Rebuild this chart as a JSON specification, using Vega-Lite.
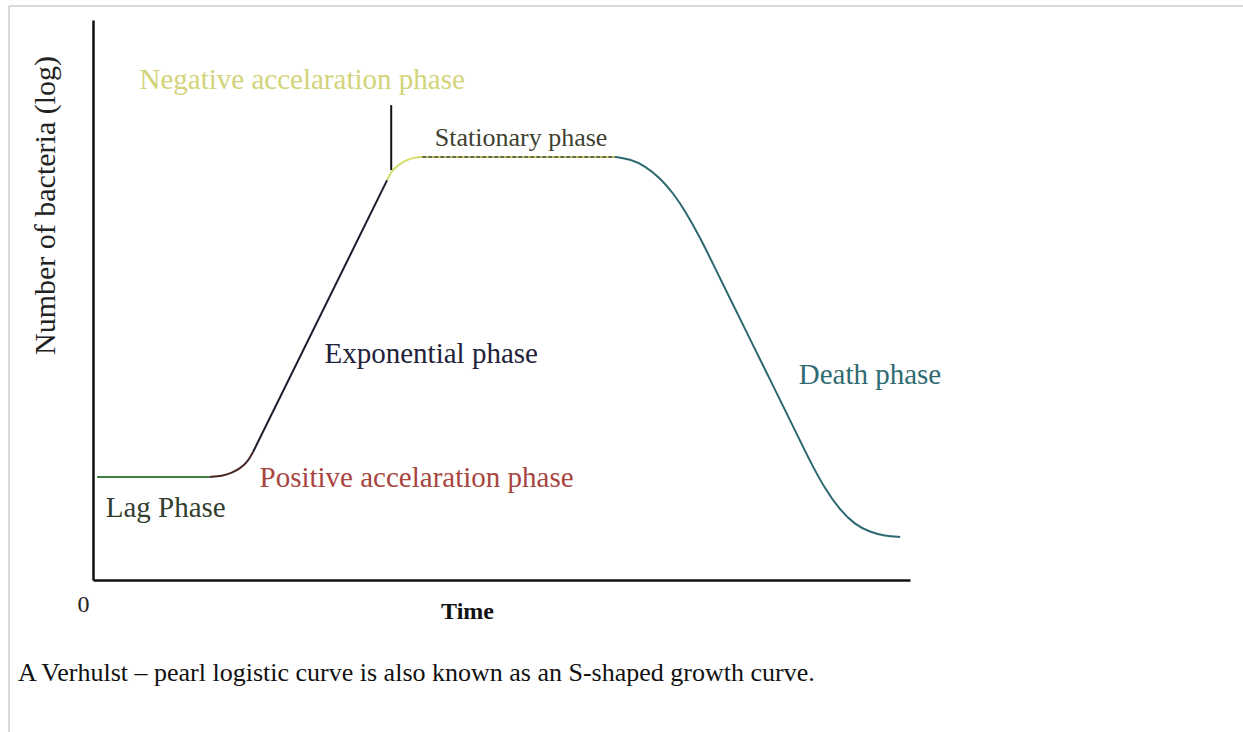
{
  "$schema": "https://vega.github.io/schema/vega-lite/v6.json",
  "width": 817,
  "height": 560,
  "autosize": {"type": "none"},
  "padding": {"left": 93, "top": 20, "right": 333, "bottom": 152},
  "background": "white",
  "config": {"view": {"stroke": null}, "font": "Liberation Serif"},
  "datasets": {
    "curve": [
      {"phase": "Lag", "t": 0.5, "n": 18.4},
      {"phase": "Lag", "t": 14.3, "n": 18.4},
      {"phase": "Positive", "t": 14.3, "n": 18.4},
      {"phase": "Positive", "t": 15.8, "n": 18.57},
      {"phase": "Positive", "t": 17.0, "n": 19.1},
      {"phase": "Positive", "t": 18.1, "n": 20.0},
      {"phase": "Positive", "t": 19.0, "n": 21.25},
      {"phase": "Positive", "t": 19.6, "n": 22.9},
      {"phase": "Exponential", "t": 19.6, "n": 22.9},
      {"phase": "Exponential", "t": 36.0, "n": 71.4},
      {"phase": "Negative", "t": 36.0, "n": 71.4},
      {"phase": "Negative", "t": 36.5, "n": 72.9},
      {"phase": "Negative", "t": 37.2, "n": 73.9},
      {"phase": "Negative", "t": 38.1, "n": 74.8},
      {"phase": "Negative", "t": 39.0, "n": 75.35},
      {"phase": "Negative", "t": 40.3, "n": 75.55},
      {"phase": "Stationary", "t": 40.3, "n": 75.55},
      {"phase": "Stationary", "t": 63.9, "n": 75.55},
      {"phase": "Death", "t": 63.9, "n": 75.55},
      {"phase": "Death", "t": 65.7, "n": 75.18},
      {"phase": "Death", "t": 67.6, "n": 73.93},
      {"phase": "Death", "t": 69.4, "n": 71.79},
      {"phase": "Death", "t": 71.0, "n": 69.11},
      {"phase": "Death", "t": 72.5, "n": 65.89},
      {"phase": "Death", "t": 74.4, "n": 60.9},
      {"phase": "Death", "t": 75.9, "n": 56.4},
      {"phase": "Death", "t": 78.3, "n": 49.3},
      {"phase": "Death", "t": 80.8, "n": 41.9},
      {"phase": "Death", "t": 83.2, "n": 34.8},
      {"phase": "Death", "t": 85.7, "n": 27.4},
      {"phase": "Death", "t": 87.1, "n": 23.2},
      {"phase": "Death", "t": 88.1, "n": 20.3},
      {"phase": "Death", "t": 89.6, "n": 16.3},
      {"phase": "Death", "t": 91.4, "n": 12.5},
      {"phase": "Death", "t": 93.3, "n": 9.82},
      {"phase": "Death", "t": 95.1, "n": 8.57},
      {"phase": "Death", "t": 96.9, "n": 7.86},
      {"phase": "Death", "t": 98.8, "n": 7.68}
    ],
    "labels": [
      {"label": "Negative accelaration phase", "t": 25.6, "n": 89.3},
      {"label": "Exponential phase", "t": 41.4, "n": 40.4},
      {"label": "Death phase", "t": 95.1, "n": 36.6},
      {"label": "Positive accelaration phase", "t": 39.6, "n": 18.2},
      {"label": "Lag Phase", "t": 8.9, "n": 12.9}
    ],
    "labels2": [
      {"label": "Stationary phase", "t": 52.4, "n": 78.9}
    ],
    "caption": [
      {"label": "A Verhulst – pearl logistic curve is also known as an S-shaped growth curve.", "t": -9.18, "n": -16.6}
    ],
    "marker": [
      {"t": 36.5, "n": 73.2, "n2": 84.8}
    ],
    "frame": [
      {"edge": "top", "t": -10.28, "t2": 140.76, "n": 102.5, "n2": 102.5},
      {"edge": "left", "t": -10.28, "t2": -10.28, "n": 102.5, "n2": -27.14}
    ]
  },
  "encoding": {
    "x": {
      "field": "t",
      "type": "quantitative",
      "scale": {"domain": [0, 100], "nice": false, "zero": false},
      "axis": {
        "values": [0],
        "title": "Time",
        "domainColor": "#111111",
        "domainWidth": 2.5,
        "ticks": false,
        "grid": false,
        "labelFont": "Liberation Serif",
        "labelFontSize": 24,
        "labelColor": "#222222",
        "labelPadding": 12,
        "labelOffset": -10,
        "labelFlush": false,
        "labelAlign": "center",
        "titleFont": "Liberation Serif",
        "titleFontSize": 24,
        "titleFontWeight": "bold",
        "titleColor": "#111111",
        "titleX": 374,
        "titleY": 31,
        "titleBaseline": "middle",
        "titleAlign": "center"
      }
    },
    "y": {
      "field": "n",
      "type": "quantitative",
      "scale": {"domain": [0, 100], "nice": false, "zero": false},
      "axis": {
        "values": [],
        "title": "Number of bacteria (log)",
        "domainColor": "#111111",
        "domainWidth": 2.5,
        "ticks": false,
        "grid": false,
        "labels": false,
        "titleFont": "Liberation Serif",
        "titleFontSize": 30,
        "titleFontWeight": "normal",
        "titleColor": "#222222",
        "titleX": -48,
        "titleY": 185,
        "titleAngle": -90,
        "titleAlign": "center",
        "titleBaseline": "middle"
      }
    }
  },
  "layer": [
    {
      "data": {"name": "frame"},
      "mark": {"type": "rule", "color": "#d9d9d9", "strokeWidth": 2},
      "encoding": {
        "x2": {"field": "t2"},
        "y2": {"field": "n2"}
      }
    },
    {
      "data": {"name": "curve"},
      "mark": {"type": "line", "strokeWidth": 2, "interpolate": "basis"},
      "encoding": {
        "color": {
          "field": "phase",
          "type": "nominal",
          "scale": {
            "domain": ["Lag", "Positive", "Exponential", "Negative", "Stationary", "Death"],
            "range": ["#3f7f3f", "#4a2626", "#1c1c2e", "#d4dd66", "#cfd36e", "#2e6870"]
          },
          "legend": null
        }
      }
    },
    {
      "data": {"name": "curve"},
      "transform": [{"filter": "datum.phase === 'Stationary'"}],
      "mark": {"type": "line", "strokeWidth": 1.5, "color": "#4a4a35", "strokeDash": [4, 2]},
      "encoding": {}
    },
    {
      "data": {"name": "marker"},
      "mark": {"type": "rule", "color": "#111111", "strokeWidth": 2},
      "encoding": {
        "y2": {"field": "n2"}
      }
    },
    {
      "data": {"name": "labels"},
      "mark": {"type": "text", "font": "Liberation Serif", "fontSize": 29, "align": "center", "baseline": "middle"},
      "encoding": {
        "text": {"field": "label"},
        "color": {
          "field": "label",
          "type": "nominal",
          "scale": {
            "domain": ["Negative accelaration phase", "Exponential phase", "Death phase", "Positive accelaration phase", "Lag Phase"],
            "range": ["#d3d37a", "#22223a", "#2f6b72", "#a8453f", "#34402f"]
          },
          "legend": null
        }
      }
    },
    {
      "data": {"name": "labels2"},
      "mark": {"type": "text", "font": "Liberation Serif", "fontSize": 26, "align": "center", "baseline": "middle", "color": "#3f3f30"},
      "encoding": {
        "text": {"field": "label"}
      }
    },
    {
      "data": {"name": "caption"},
      "mark": {"type": "text", "font": "Liberation Serif", "fontSize": 26, "align": "left", "baseline": "middle", "color": "#111111"},
      "encoding": {
        "text": {"field": "label"}
      }
    }
  ],
  "resolve": {"scale": {"color": "independent"}}
}
